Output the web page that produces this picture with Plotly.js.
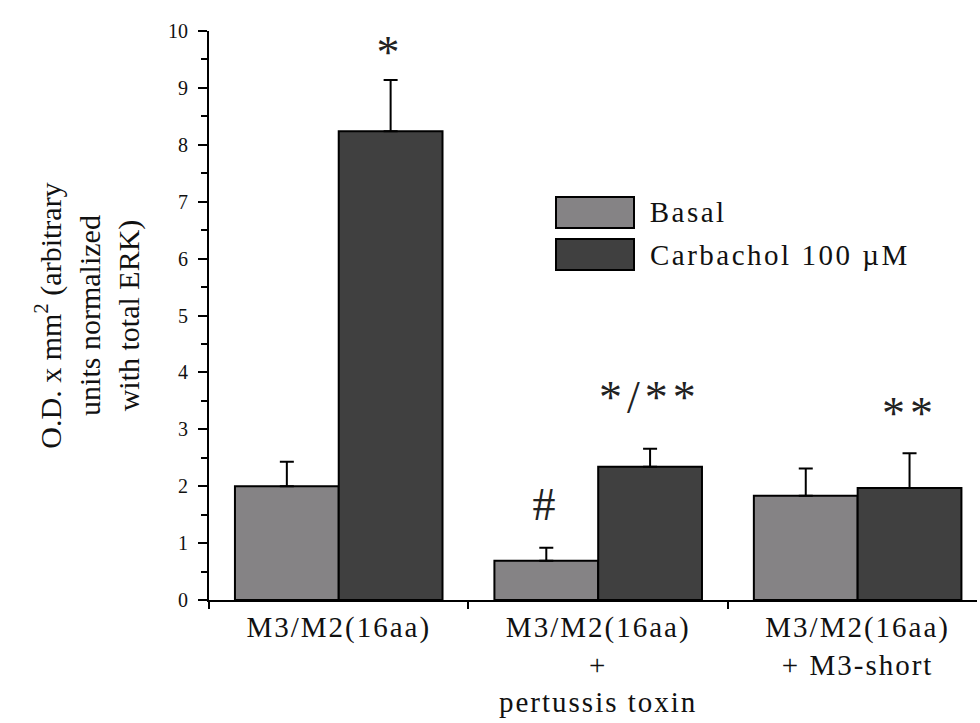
<!DOCTYPE html>
<html>
<head>
<meta charset="utf-8">
<script src="https://cdn.plot.ly/plotly-3.0.1.min.js"></script>
<style>
html,body{margin:0;padding:0;background:#fff;}
#chart{width:980px;height:723px;}
.xtick text{letter-spacing:2px;}
.annotation[data-index="0"] text,.annotation[data-index="1"] text,.annotation[data-index="2"] text,.annotation[data-index="3"] text{letter-spacing:5px;}
.annotation[data-index="4"] text,.annotation[data-index="5"] text{letter-spacing:2.5px;}
</style>
</head>
<body>
<div id="chart"></div>
<script>
const categories = ["M3/M2(16aa)", "M3/M2(16aa)<br>+<br>pertussis toxin", "M3/M2(16aa)<br>+ M3-short"];
const seriesNames = ["Basal", "Carbachol 100 \u00b5M"];
const basalValues = [2.0, 0.69, 1.83];
const basalErrors = [0.43, 0.23, 0.48];
const carbacholValues = [8.24, 2.34, 1.97];
const carbacholErrors = [0.90, 0.32, 0.61];
const sigBasal = ["", "#", ""];
const sigCarbachol = ["*", "*/**", "**"];
const yTicks = [0,1,2,3,4,5,6,7,8,9,10];

const basalColor = "#858385";
const carbColor = "#404040";
const pos = categories.map((c,i)=>i);

const traces = [
  {type:"bar", name:seriesNames[0], x:pos, y:basalValues,
   marker:{color:basalColor, line:{color:"#000", width:2}},
   error_y:{type:"data", array:basalErrors, arrayminus:basalErrors.map(()=>0), symmetric:false, color:"#000", thickness:2, width:7},
   showlegend:false},
  {type:"bar", name:seriesNames[1], x:pos, y:carbacholValues,
   marker:{color:carbColor, line:{color:"#000", width:2}},
   error_y:{type:"data", array:carbacholErrors, arrayminus:carbacholErrors.map(()=>0), symmetric:false, color:"#000", thickness:2, width:7},
   showlegend:false}
];

const serif = "Liberation Serif, Times New Roman, serif";
const annotations = [];
const sigOffsets = {"*":0.48, "#":0.76, "*/**":0.9, "**":0.7};
sigBasal.forEach((s,i)=>{ if(s) annotations.push({x:i-0.2, y:basalValues[i]+basalErrors[i]+sigOffsets[s], xref:"x", yref:"y", text:s, showarrow:false, font:{family:serif,size:46,color:"#222"}, xanchor:"center", yanchor:"middle"}); });
sigCarbachol.forEach((s,i)=>{ if(s) annotations.push({x:i+0.2, y:carbacholValues[i]+carbacholErrors[i]+sigOffsets[s], xref:"x", yref:"y", text:s, showarrow:false, font:{family:serif,size:46,color:"#222"}, xanchor:"center", yanchor:"middle"}); });

// custom legend (large swatches as in reference)
const plotL = 209, plotW = 768, plotT = 31, plotH = 569;
const px2x = p => (p-plotL)/plotW;
const py2y = p => (plotT+plotH-p)/plotH;
const shapes = [];
const legendSpacing = 2.5;
[[197,228,basalColor],[239,270,carbColor]].forEach((r,k)=>{
  shapes.push({type:"rect", xref:"paper", yref:"paper", x0:px2x(556), x1:px2x(634), y0:py2y(r[1]), y1:py2y(r[0]), fillcolor:r[2], line:{color:"#000", width:2}});
  annotations.push({xref:"paper", yref:"paper", x:px2x(648), y:py2y((r[0]+r[1])/2), xshift:seriesNames[k].length*legendSpacing/2,
    text:seriesNames[k], showarrow:false, xanchor:"left", yanchor:"middle", font:{family:serif, size:29, color:"#111"}});
});

const layout = {
  width:980, height:723,
  margin:{l:209, r:3, t:31, b:123},
  paper_bgcolor:"#fff", plot_bgcolor:"#fff",
  barmode:"group", bargap:0.2, bargroupgap:0,
  font:{family:serif, color:"#111"},
  xaxis:{range:[-0.5,2.46], tickmode:"array", tickvals:pos, ticktext:categories, ticks:"",
         showline:true, linecolor:"#000", linewidth:2, showgrid:false, zeroline:false,
         tickfont:{family:serif, size:29, color:"#111"},
         minor:{tickmode:"array", tickvals:[-0.5,0.5,1.5], ticks:"outside", ticklen:7, tickwidth:2, tickcolor:"#000", showgrid:false}},
  yaxis:{range:[0,10], tickmode:"array", tickvals:yTicks, ticks:"outside", ticklen:9, tickwidth:2, tickcolor:"#000",
         showline:true, linecolor:"#000", linewidth:2, showgrid:false, zeroline:false,
         ticklabelstandoff:6,
         tickfont:{family:serif, size:20, color:"#111"},
         minor:{dtick:0.5, ticks:"outside", ticklen:6, tickwidth:2, tickcolor:"#000", showgrid:false},
         title:{text:"O.D. x mm<sup>2</sup> (arbitrary<br>units normalized<br>with total ERK)", standoff:20, font:{family:serif, size:30, color:"#111"}}},
  annotations:annotations,
  shapes:shapes,
  showlegend:false
};

Plotly.newPlot("chart", traces, layout, {staticPlot:true});
</script>
</body>
</html>
